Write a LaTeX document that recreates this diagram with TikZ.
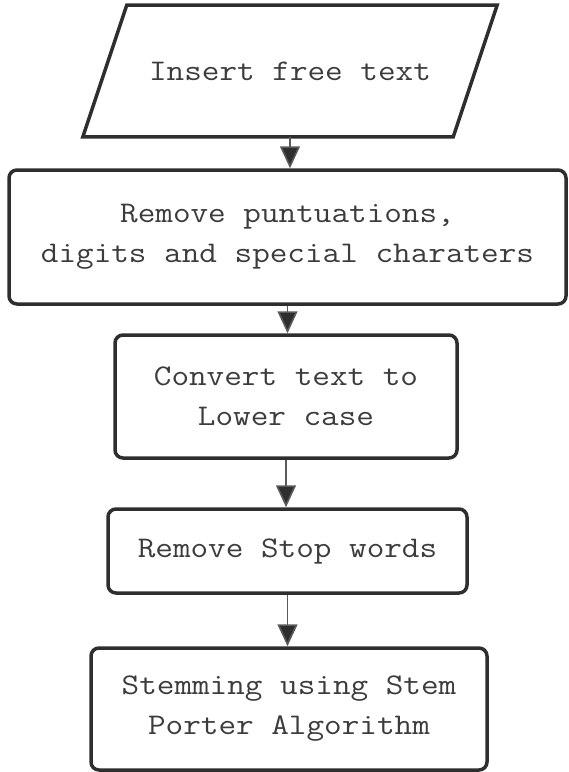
\documentclass[tikz,border=0pt]{standalone}
\usepackage{fontspec}
\usetikzlibrary{arrows.meta}
\newfontfamily\flowfont{Latin Modern Mono}[FakeStretch=1.14]
\definecolor{edge}{HTML}{2E2E2E}
\definecolor{ink}{HTML}{3C3C3C}
\definecolor{wire}{HTML}{5A5A5A}
\begin{document}
\begin{tikzpicture}[x=1pt,y=-1pt,
  label text/.style={font=\flowfont\fontsize{30}{40}\selectfont, text=ink, align=center, inner sep=0pt},
  process/.style={label text, draw=edge, line width=3.5pt, rounded corners=8pt},
  flow/.style={draw=wire, line width=1.6pt, -{Triangle[width=20pt,length=22pt,fill=edge]}}
]
\useasboundingbox (0,0) rectangle (569,772);

% input step: parallelogram drawn around a plain text node
\node[label text, minimum width=370pt, minimum height=131.5pt] (in) at (290,71) {Insert free text};
\draw[edge, line width=3.5pt, line join=miter]
  ([xshift=-22pt]in.south west) -- ([xshift=-22pt]in.south east)
  -- ([xshift=22pt]in.north east) -- ([xshift=22pt]in.north west) -- cycle;

% processing steps
\node[process, minimum width=557pt, minimum height=134pt] (clean) at (287.5,237)
  {Remove puntuations,\\digits and special charaters};
\node[process, minimum width=342pt, minimum height=123pt] (lower) at (286,396.5)
  {Convert text to\\Lower case};
\node[process, minimum width=359pt, minimum height=84pt] (stop) at (287.5,551)
  {Remove Stop words};
\node[process, minimum width=396pt, minimum height=122pt] (stem) at (289,709)
  {Stemming using Stem\\Porter Algorithm};

% connectors
\draw[flow] (in.south) -- (in.south |- clean.north);
\draw[flow] (clean.south) -- (clean.south |- lower.north);
\draw[flow] (lower.south) -- (lower.south |- stop.north);
\draw[flow] (stop.south) -- (stop.south |- stem.north);
\end{tikzpicture}
\end{document}
